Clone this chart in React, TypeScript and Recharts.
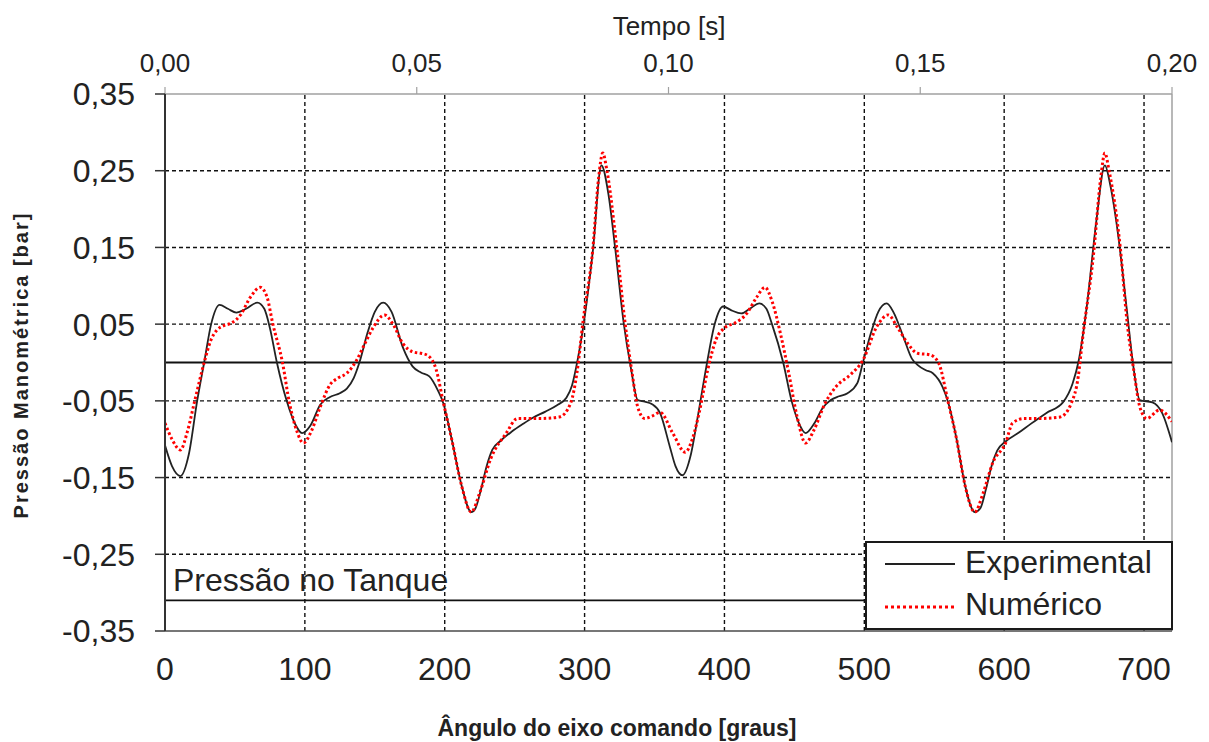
import React from 'react';
import { LineChart, Line, XAxis, YAxis, ReferenceLine, Legend } from 'recharts';

const FONT = "'Liberation Sans', Arial, Helvetica, sans-serif";

// Ângulo do eixo comando [graus] ticks
const angleTicks = [0, 100, 200, 300, 400, 500, 600, 700];
// Tempo [s] ticks
const timeTicks = [0, 0.05, 0.1, 0.15, 0.2];
// Pressão Manométrica [bar] ticks
const pressureTicks = [-0.35, -0.25, -0.15, -0.05, 0.05, 0.15, 0.25, 0.35];

// Experimental series
const expAngle = [
  0, 5, 11, 17, 23, 28, 33, 39, 45, 51, 58, 66, 71, 75, 80, 87, 93, 98, 104, 111,
  118, 125, 130, 135, 139, 145, 150, 156, 162, 170, 177, 183, 189, 195, 199, 205, 212, 219, 222, 226,
  230, 234, 240, 248, 256, 263, 272, 280, 287, 291, 294, 299, 306, 312, 317, 322, 328, 333, 338, 343,
  348, 354, 361, 365, 370, 376, 381, 387, 393, 399, 405, 412, 418, 425, 430, 434, 442, 448, 453, 458,
  464, 470, 476, 482, 488, 495, 499, 505, 510, 516, 521, 528, 534, 538, 544, 549, 556, 560, 566, 572,
  579, 583, 587, 591, 595, 601, 610, 619, 630, 642, 649, 653, 659, 666, 672, 676, 681, 688, 692, 697,
  706, 713, 720,
];
const expValue = [
  -0.108, -0.135, -0.148, -0.12, -0.05, 0.0, 0.05, 0.075, 0.07, 0.065, 0.07, 0.078, 0.07, 0.045, 0.0, -0.05, -0.08, -0.092, -0.082, -0.055,
  -0.045, -0.04, -0.034, -0.02, 0.0, 0.04, 0.066, 0.078, 0.066, 0.02, -0.005, -0.013, -0.018, -0.036, -0.053, -0.1, -0.16, -0.195, -0.19, -0.165,
  -0.135, -0.114, -0.102, -0.09, -0.08, -0.072, -0.064, -0.056, -0.046, -0.03, -0.006, 0.046, 0.147, 0.257, 0.22, 0.147, 0.051, -0.006, -0.049, -0.051,
  -0.054, -0.066, -0.11, -0.135, -0.147, -0.12, -0.07, -0.006, 0.05, 0.073, 0.068, 0.064, 0.07, 0.077, 0.07, 0.05, 0.0, -0.05, -0.078, -0.092,
  -0.08, -0.06, -0.049, -0.044, -0.04, -0.027, 0.0, 0.04, 0.066, 0.077, 0.065, 0.033, 0.005, -0.003, -0.01, -0.014, -0.032, -0.052, -0.1, -0.16,
  -0.195, -0.19, -0.165, -0.135, -0.115, -0.103, -0.092, -0.08, -0.066, -0.052, -0.027, 0.0, 0.072, 0.186, 0.257, 0.23, 0.173, 0.064, 0.0, -0.049,
  -0.052, -0.066, -0.104,
];

// Numérico series
const numAngle = [
  0, 5, 11, 16, 21, 28, 33, 37, 42, 47, 54, 61, 68, 73, 77, 84, 89, 94, 99, 105,
  111, 118, 124, 130, 137, 143, 149, 157, 163, 170, 177, 183, 188, 194, 199, 205, 212, 219, 225, 233,
  244, 252, 260, 268, 282, 290, 294.5, 299, 306, 310, 313, 316, 323, 329, 334, 338, 343, 348, 354, 363,
  372, 377, 382, 388, 394, 400, 408, 416, 423, 429, 434, 440, 446, 452, 458, 464, 472, 480, 490, 499,
  509, 517, 524, 531, 538, 547, 553, 560, 566, 572, 579, 585, 592, 601, 606, 614, 625, 640, 648, 653,
  656, 664, 669, 672, 675, 683, 688, 693, 697, 702, 711, 720,
];
const numValue = [
  -0.079, -0.1, -0.114, -0.09, -0.052, 0.0, 0.03, 0.042, 0.048, 0.051, 0.062, 0.085, 0.098, 0.085, 0.051, 0.0, -0.053, -0.088, -0.105, -0.088,
  -0.058, -0.029, -0.02, -0.014, 0.003, 0.025, 0.046, 0.062, 0.05, 0.025, 0.014, 0.012, 0.009, -0.01, -0.052, -0.1, -0.16, -0.195, -0.17, -0.125,
  -0.092, -0.073, -0.073, -0.073, -0.071, -0.053, -0.014, 0.055, 0.15, 0.24, 0.273, 0.25, 0.15, 0.051, -0.014, -0.058, -0.073, -0.07, -0.065, -0.092,
  -0.117, -0.1, -0.065, -0.01, 0.03, 0.045, 0.052, 0.064, 0.085, 0.098, 0.08, 0.038, -0.014, -0.071, -0.105, -0.088, -0.053, -0.031, -0.016, 0.003,
  0.047, 0.062, 0.045, 0.025, 0.012, 0.01, 0.0, -0.052, -0.1, -0.16, -0.195, -0.17, -0.13, -0.105, -0.079, -0.073, -0.073, -0.071, -0.053, -0.018,
  0.03, 0.143, 0.24, 0.273, 0.25, 0.15, 0.051, -0.014, -0.058, -0.073, -0.062, -0.077,
];

// Pressão no Tanque
const tankTime = [0, 0.2];
const tankPressure = -0.31;

const expData = expAngle.map((a, i) => ({ angle: a, p: expValue[i] }));
const numData = numAngle.map((a, i) => ({ angle: a, p: numValue[i] }));
const tankData = tankTime.map((t) => ({ time: t, p: tankPressure }));

const fmt2 = (v: number) => v.toFixed(2).replace('.', ',');

const gridY = pressureTicks.filter((v) => Math.abs(v) < 0.35);
const gridX = angleTicks.filter((v) => v > 0);

const renderLegend = () => (
  <div
    style={{
      position: 'relative',
      boxSizing: 'border-box',
      width: 308,
      height: 89,
      border: '2px solid #1a1a1a',
      background: '#fff',
      fontFamily: FONT,
      fontSize: 32,
      color: '#222',
    }}
  >
    <svg style={{ position: 'absolute', left: 18, top: 16 }} width={72} height={10}>
      <line x1={0} x2={70} y1={5} y2={5} stroke="#222" strokeWidth={2} />
    </svg>
    <div style={{ position: 'absolute', left: 98, top: 3, lineHeight: '32px', whiteSpace: 'nowrap' }}>Experimental</div>
    <svg style={{ position: 'absolute', left: 18, top: 59 }} width={72} height={10}>
      <line x1={0} x2={70} y1={5} y2={5} stroke="#ff0000" strokeWidth={3} strokeDasharray="3 3" />
    </svg>
    <div style={{ position: 'absolute', left: 98, top: 45, lineHeight: '32px', whiteSpace: 'nowrap' }}>Numérico</div>
  </div>
);

export default function App() {
  return (
    <div style={{ position: 'absolute', left: 0, top: 0, width: 1209, height: 742, background: '#fff', fontFamily: FONT }}>
      <LineChart width={1209} height={742} margin={{ top: 64, right: 37, bottom: 71, left: 65 }}>
        <XAxis
          xAxisId="bottom"
          dataKey="angle"
          type="number"
          domain={[0, 720]}
          ticks={angleTicks}
          allowDataOverflow
          height={40}
          tickLine={false}
          tickSize={0}
          tickMargin={26}
          axisLine={{ stroke: '#4a4a4a', strokeWidth: 1.5 }}
          tick={{ fontSize: 32, fill: '#222', fontFamily: FONT }}
        />
        <XAxis
          xAxisId="top"
          orientation="top"
          dataKey="time"
          type="number"
          domain={[0, 0.2]}
          ticks={timeTicks}
          allowDataOverflow
          tickFormatter={fmt2}
          height={30}
          tickSize={7}
          tickMargin={15}
          axisLine={{ stroke: '#a0a0a0', strokeWidth: 1.5 }}
          tickLine={{ stroke: '#a0a0a0', strokeWidth: 1.2 }}
          tick={{ fontSize: 26, fill: '#222', fontFamily: FONT }}
        />
        <YAxis
          dataKey="p"
          type="number"
          domain={[-0.35, 0.35]}
          ticks={pressureTicks}
          allowDataOverflow
          tickFormatter={fmt2}
          width={100}
          tickSize={10}
          tickMargin={20}
          axisLine={{ stroke: '#333', strokeWidth: 2 }}
          tickLine={{ stroke: '#333', strokeWidth: 1.5 }}
          tick={{ fontSize: 32, fill: '#222', fontFamily: FONT }}
        />
        {gridY.map((v) => (
          <ReferenceLine key={'gy' + v} xAxisId="bottom" y={v} stroke="#111" strokeWidth={1.4} strokeDasharray="4 3" />
        ))}
        {gridX.map((v) => (
          <ReferenceLine key={'gx' + v} xAxisId="bottom" x={v} stroke="#111" strokeWidth={1.4} strokeDasharray="4 3" />
        ))}
        <ReferenceLine xAxisId="bottom" x={720} stroke="#a0a0a0" strokeWidth={1.5} />
        <ReferenceLine xAxisId="bottom" y={0} stroke="#111" strokeWidth={1.8} />
        <Line
          xAxisId="top"
          data={tankData}
          dataKey="p"
          type="linear"
          stroke="#111"
          strokeWidth={1.8}
          dot={false}
          isAnimationActive={false}
          legendType="none"
        />
        <Line
          xAxisId="bottom"
          data={expData}
          dataKey="p"
          name="Experimental"
          type="monotone"
          stroke="#222"
          strokeWidth={1.8}
          dot={false}
          isAnimationActive={false}
        />
        <Line
          xAxisId="bottom"
          data={numData}
          dataKey="p"
          name="Numérico"
          type="monotone"
          stroke="#ff0000"
          strokeWidth={3}
          strokeDasharray="2.5 2.5"
          dot={false}
          isAnimationActive={false}
        />
        <Legend
          layout="vertical"
          align="center"
          verticalAlign="middle"
          content={renderLegend}
          wrapperStyle={{ position: 'absolute', left: 865, top: 541, width: 308, height: 89 }}
        />
      </LineChart>
      <div style={{ position: 'absolute', left: 173, top: 564, fontSize: 32, lineHeight: '32px', color: '#222', whiteSpace: 'nowrap' }}>
        Pressão no Tanque
      </div>
      <div style={{ position: 'absolute', left: 669, top: 13, transform: 'translateX(-50%)', fontSize: 26, lineHeight: '26px', color: '#222', whiteSpace: 'nowrap' }}>
        Tempo [s]
      </div>
      <div style={{ position: 'absolute', left: 617, top: 717, transform: 'translateX(-50%)', fontSize: 23, lineHeight: '23px', fontWeight: 'bold', color: '#222', whiteSpace: 'nowrap' }}>
        Ângulo do eixo comando [graus]
      </div>
      <div style={{ position: 'absolute', left: 21, top: 365, transform: 'translate(-50%, -50%) rotate(-90deg)', fontSize: 20, lineHeight: '20px', fontWeight: 'bold', letterSpacing: 2, color: '#222', whiteSpace: 'nowrap' }}>
        Pressão Manométrica [bar]
      </div>
    </div>
  );
}
